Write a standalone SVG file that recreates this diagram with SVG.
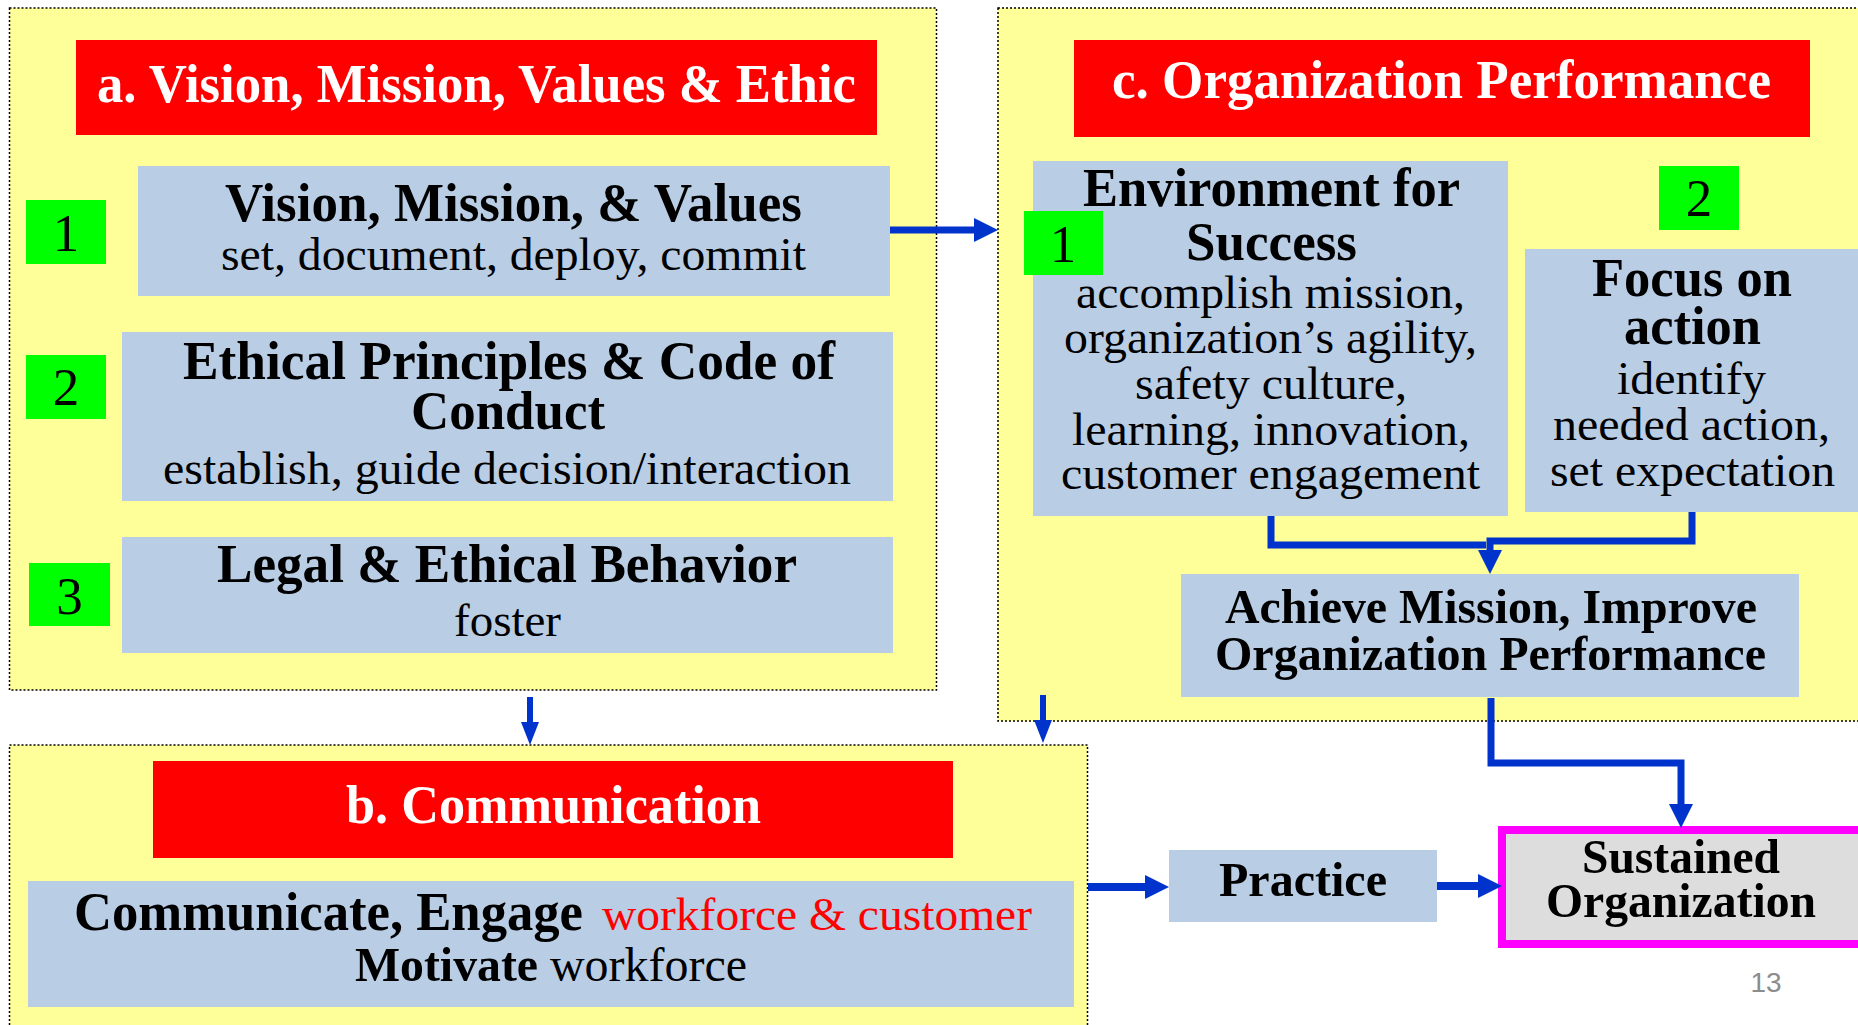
<svg xmlns="http://www.w3.org/2000/svg" width="1858" height="1025" viewBox="0 0 1858 1025" font-family="'Liberation Serif', 'Times New Roman', Times, serif">
<style>
.panel{fill:#FFFF99;stroke:#000;stroke-width:1.5;stroke-dasharray:2 2}
.hdr{fill:#FF0000}
.box{fill:#B9CDE5}
.num{fill:#00FF00}
text{font-family:'Liberation Serif','Times New Roman',Times,serif}
.t{text-anchor:middle;fill:#000}
.h{font-weight:bold;font-size:54px}
.hw{font-weight:bold;font-size:55px;fill:#fff}
.b{font-size:47px}
.n{font-size:53px}
.m{font-weight:bold;font-size:49px}
.con{fill:none;stroke:#0033CC;stroke-width:7}
</style>
<defs>
<marker id="ah" markerUnits="userSpaceOnUse" markerWidth="24" markerHeight="24" refX="4" refY="12" orient="auto">
<path d="M0,0 L24,12 L0,24 z" fill="#0033CC"/>
</marker>
<marker id="ahs" markerUnits="userSpaceOnUse" markerWidth="23" markerHeight="18" refX="4" refY="9" orient="auto">
<path d="M0,0 L23,9 L0,18 z" fill="#0033CC"/>
</marker>
</defs>
<rect width="1858" height="1025" fill="#fff"/>

<g id="panel-a">
<rect class="panel" x="9.5" y="8" width="927" height="682"/>
<rect class="hdr" x="76" y="40" width="801" height="95"/>
<text class="t hw" x="476.5" y="102" textLength="759" lengthAdjust="spacingAndGlyphs">a. Vision, Mission, Values &amp; Ethic</text>
</g>
<g id="a1">
<rect class="box" x="138" y="166" width="752" height="130"/>
<text class="t h" x="513.5" y="221" textLength="577" lengthAdjust="spacingAndGlyphs">Vision, Mission, &amp; Values</text>
<text class="t b" x="513.5" y="270" textLength="585" lengthAdjust="spacingAndGlyphs">set, document, deploy, commit</text>
</g>
<g id="a1-num"><rect class="num" x="26" y="200" width="80" height="64"/><text class="t n" x="66" y="251">1</text></g>
<g id="a2">
<rect class="box" x="122" y="332" width="771" height="169"/>
<text class="t h" x="509" y="379" textLength="652" lengthAdjust="spacingAndGlyphs">Ethical Principles &amp; Code of</text>
<text class="t h" x="508" y="429" textLength="194" lengthAdjust="spacingAndGlyphs">Conduct</text>
<text class="t b" x="507" y="484" textLength="688" lengthAdjust="spacingAndGlyphs">establish, guide decision/interaction</text>
</g>
<g id="a2-num"><rect class="num" x="26" y="355" width="80" height="64"/><text class="t n" x="66" y="405">2</text></g>
<g id="a3">
<rect class="box" x="122" y="537" width="771" height="116"/>
<text class="t h" x="507" y="582" textLength="580" lengthAdjust="spacingAndGlyphs">Legal &amp; Ethical Behavior</text>
<text class="t b" x="507.5" y="636" textLength="107" lengthAdjust="spacingAndGlyphs">foster</text>
</g>
<g id="a3-num"><rect class="num" x="29" y="563" width="81" height="63"/><text class="t n" x="69.5" y="614">3</text></g>

<g id="panel-c">
<rect class="panel" x="998" y="8" width="880" height="713"/>
<rect class="hdr" x="1074" y="40" width="736" height="97"/>
<text class="t hw" x="1441.5" y="98" textLength="659" lengthAdjust="spacingAndGlyphs">c. Organization Performance</text>
</g>
<g id="c1">
<rect class="box" x="1033" y="161" width="475" height="355"/>
<text class="t h" x="1271.5" y="206" textLength="377" lengthAdjust="spacingAndGlyphs">Environment for</text>
<text class="t h" x="1271.5" y="260" textLength="171" lengthAdjust="spacingAndGlyphs">Success</text>
<text class="t b" x="1270.5" y="308" textLength="389" lengthAdjust="spacingAndGlyphs">accomplish mission,</text>
<text class="t b" x="1270.5" y="353" textLength="413" lengthAdjust="spacingAndGlyphs">organization’s agility,</text>
<text class="t b" x="1271" y="399" textLength="272" lengthAdjust="spacingAndGlyphs">safety culture,</text>
<text class="t b" x="1271" y="445" textLength="398" lengthAdjust="spacingAndGlyphs">learning, innovation,</text>
<text class="t b" x="1270.5" y="489" textLength="419" lengthAdjust="spacingAndGlyphs">customer engagement</text>
</g>
<g id="c1-num"><rect class="num" x="1024" y="211" width="79" height="64"/><text class="t n" x="1063" y="262">1</text></g>
<g id="c2">
<rect class="box" x="1525" y="249" width="345" height="263"/>
<text class="t h" x="1692" y="296" textLength="200" lengthAdjust="spacingAndGlyphs">Focus on</text>
<text class="t h" x="1692.5" y="344" textLength="137" lengthAdjust="spacingAndGlyphs">action</text>
<text class="t b" x="1691.5" y="394" textLength="149" lengthAdjust="spacingAndGlyphs">identify</text>
<text class="t b" x="1691.5" y="440" textLength="277" lengthAdjust="spacingAndGlyphs">needed action,</text>
<text class="t b" x="1692.5" y="486" textLength="285" lengthAdjust="spacingAndGlyphs">set expectation</text>
</g>
<g id="c2-num"><rect class="num" x="1659" y="166" width="80" height="64"/><text class="t n" x="1699" y="216">2</text></g>
<g id="c3">
<rect class="box" x="1181" y="574" width="618" height="123"/>
<text class="t m" x="1491" y="623" textLength="532" lengthAdjust="spacingAndGlyphs">Achieve Mission, Improve</text>
<text class="t m" x="1490.5" y="670" textLength="551" lengthAdjust="spacingAndGlyphs">Organization Performance</text>
</g>

<g id="panel-b">
<rect class="panel" x="9.5" y="745" width="1078" height="300"/>
<rect class="hdr" x="153" y="761" width="800" height="97"/>
<text class="t hw" x="553.5" y="823" textLength="415" lengthAdjust="spacingAndGlyphs">b. Communication</text>
</g>
<g id="b1">
<rect class="box" x="28" y="881" width="1046" height="126"/>
<text class="t h" x="74" y="930" style="text-anchor:start" textLength="509" lengthAdjust="spacingAndGlyphs">Communicate, Engage</text>
<text class="t" x="602" y="930" style="text-anchor:start;font-size:47px;fill:#FF0000" textLength="430" lengthAdjust="spacingAndGlyphs">workforce &amp; customer</text>
<text class="t m" x="355" y="981" style="text-anchor:start" textLength="183" lengthAdjust="spacingAndGlyphs">Motivate</text>
<text class="t" x="550" y="981" style="text-anchor:start;font-size:48px" textLength="197" lengthAdjust="spacingAndGlyphs">workforce</text>
</g>

<g id="practice">
<rect class="box" x="1169" y="850" width="268" height="72"/>
<text class="t m" x="1303" y="896" textLength="168" lengthAdjust="spacingAndGlyphs">Practice</text>
</g>
<g id="sustained">
<rect x="1502" y="830" width="370" height="114" fill="#DDDDDD" stroke="#FF00FF" stroke-width="8"/>
<text class="t m" x="1681" y="873" textLength="198" lengthAdjust="spacingAndGlyphs">Sustained</text>
<text class="t m" x="1681" y="917" textLength="270" lengthAdjust="spacingAndGlyphs">Organization</text>
</g>
<g id="page-num">
<text x="1766" y="992" style="font-family:'Liberation Sans',Arial,sans-serif;font-size:28px;fill:#8C8C8C;text-anchor:middle">13</text>
</g>

<g id="connectors">
<path class="con" d="M890,230 H978" marker-end="url(#ah)"/>
<path class="con" style="stroke-width:6" d="M530,697 V726" marker-end="url(#ahs)"/>
<path class="con" style="stroke-width:6" d="M1043,695 V724" marker-end="url(#ahs)"/>
<path class="con" d="M1271,516 V545 H1486"/>
<path class="con" d="M1692,512 V541 H1490 V554" marker-end="url(#ah)"/>
<path class="con" d="M1491,698 V763 H1681 V808" marker-end="url(#ah)"/>
<path class="con" style="stroke-width:8" d="M1088,887 H1149" marker-end="url(#ah)"/>
<path class="con" style="stroke-width:8" d="M1437,886 H1482" marker-end="url(#ah)"/>
</g>
</svg>
